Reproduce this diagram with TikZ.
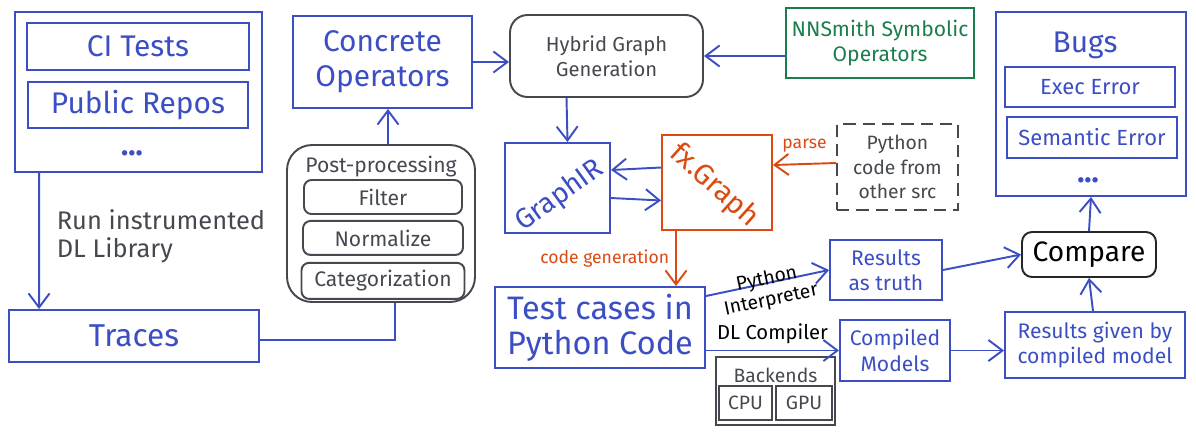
\documentclass[tikz,border=0pt]{standalone}
\usepackage{fontspec}
\setmainfont{Fira Sans}
\usetikzlibrary{arrows.meta,positioning}

\definecolor{skblue}{HTML}{3B4EC4}
\definecolor{skgray}{HTML}{45494F}
\definecolor{skgreen}{HTML}{1C7D4C}
\definecolor{skorange}{HTML}{DB4A10}

\begin{document}
\begin{tikzpicture}[x=0.02cm,y=-0.02cm,->,>={Straight Barb[length=8pt,width=12pt]},
  line width=1.1pt,
  blue box/.style={rectangle,draw=skblue,text=skblue,align=center,inner sep=0pt},
  gray box/.style={rectangle,draw=skgray,text=skgray,align=center,inner sep=0pt},
  big text/.style={font=\fontsize{17}{20}\selectfont},
  mid text/.style={font=\fontsize{12}{14.5}\selectfont},
  small text/.style={font=\fontsize{11}{13}\selectfont}]

  \useasboundingbox (0,0) rectangle (1196,434);

  % sources and traces
  \node[blue box,minimum width=4.94cm,minimum height=3.2cm] (src) at (138.5,92) {};
  \node[blue box,big text,minimum width=4.44cm,minimum height=0.94cm] (ci) at (138,46.5) {CI Tests};
  \node[blue box,big text,minimum width=4.4cm,minimum height=0.92cm] (repos) [below=0.2cm of ci] {Public Repos};
  \node[text=skblue,big text] (srcdots) at (132,153) {\textbf{...}};
  \node[text=skgray,font=\fontsize{14.5}{16}\selectfont,align=left,anchor=west] (run) at (50,236) {Run instrumented\\DL Library};
  \node[blue box,font=\fontsize{18}{20}\selectfont,minimum width=5cm,minimum height=1.04cm] (traces) at (134,336) {Traces};

  % post-processing
  \node[gray box,rounded corners=0.5cm,minimum width=3.76cm,minimum height=3.14cm] (post) at (381,223.5) {};
  \node[text=skgray,mid text] (posttitle) [below=0.1cm of post.north] {Post-processing};
  \node[gray box,mid text,rounded corners=0.15cm,minimum width=3.16cm,minimum height=0.68cm] (filter) at (383,197) {Filter};
  \node[gray box,mid text,rounded corners=0.15cm,minimum width=3.2cm,minimum height=0.68cm] (norm) [below=0.1cm of filter] {Normalize};
  \node[gray box,mid text,rounded corners=0.15cm,minimum width=3.26cm,minimum height=0.72cm] (categ) [below=0.12cm of norm] {Categorization};

  % graph generation
  \node[blue box,big text,minimum width=3.58cm,minimum height=1.84cm] (conc) at (382.5,62) {Concrete\\Operators};
  \node[gray box,rounded corners=0.35cm,font=\fontsize{11.5}{14}\selectfont,minimum width=3.86cm,minimum height=1.64cm] (hybrid) at (606.5,56) {Hybrid Graph\\Generation};
  \node[rectangle,draw=skgreen,text=skgreen,align=center,mid text,minimum width=3.6cm,minimum height=1.4cm] (nns) at (880,43) {NNSmith Symbolic\\Operators};
  \node[blue box,minimum width=2.1cm,minimum height=1.8cm] (gir) at (557.5,188) {};
  \node[text=skblue,font=\fontsize{16}{18}\selectfont,rotate=36] (girtext) at (560,196) {GraphIR};
  \node[rectangle,draw=skorange,minimum width=2.2cm,minimum height=1.9cm] (fxg) at (717,182.5) {};
  \node[text=skorange,font=\fontsize{16.5}{18}\selectfont,rotate=-42] (fxgtext) at (714,186) {fx.Graph};
  \node[rectangle,draw=skgray,dash pattern=on 7pt off 4pt,text=skgray,align=center,font=\fontsize{11}{14}\selectfont,minimum width=2.42cm,minimum height=1.72cm] (pysrc) at (897.5,167) {Python\\code from\\other src};

  % testing
  \node[blue box,font=\fontsize{18.5}{20}\selectfont,minimum width=4.2cm,minimum height=1.62cm] (test) at (600,327.5) {Test cases in\\Python Code};
  \node[blue box,mid text,minimum width=2.24cm,minimum height=1.2cm] (truth) at (886,270) {Results\\as truth};
  \node[blue box,mid text,minimum width=2.2cm,minimum height=1.22cm] (compiled) at (895,350.5) {Compiled\\Models};
  \node[gray box,minimum width=2.38cm,minimum height=1.36cm] (back) at (775.5,391) {};
  \node[text=skgray,small text] (backtitle) [below=0.1cm of back.north] {Backends};
  \node[gray box,small text,minimum width=1.06cm,minimum height=0.68cm] (cpu) at (745.5,403) {CPU};
  \node[gray box,small text,minimum width=1.12cm,minimum height=0.68cm] (gpu) at (804,403) {GPU};
  \node[blue box,mid text,minimum width=3.6cm,minimum height=1.32cm] (given) at (1095,345) {Results given by\\compiled model};
  \node[rectangle,draw=black!85,rounded corners=0.2cm,font=\fontsize{16}{20}\selectfont,minimum width=2.68cm,minimum height=0.9cm] (cmp) at (1089,254.5) {Compare};

  % bugs
  \node[blue box,minimum width=3.8cm,minimum height=3.68cm] (bugs) at (1091,104) {};
  \node[text=skblue,big text] (bugstitle) at (1085,45) {Bugs};
  \node[blue box,font=\fontsize{12.5}{14}\selectfont,minimum width=3.4cm,minimum height=0.8cm] (exec) at (1090,87) {Exec Error};
  \node[blue box,font=\fontsize{12.5}{14}\selectfont,minimum width=3.4cm,minimum height=0.82cm] (sem) at (1092,137.5) {Semantic Error};
  \node[text=skblue,big text] (bugdots) at (1088,180) {\textbf{...}};

  \draw[-,skblue] ([yshift=-0.08cm]traces.east) -| ([xshift=0.28cm]post.south);

  \path
    ([xshift=0.5cm]src.south west) edge[skblue] ([xshift=0.62cm]traces.north west)
    ([xshift=0.14cm]post.north) edge[skblue] ([xshift=0.11cm]conc.south)
    (conc.east) edge[skblue] (conc.east -| hybrid.west)
    (nns.west |- hybrid.east) edge[skblue] (hybrid.east)
    ([xshift=-0.8cm]hybrid.south) edge[skblue] ([xshift=0.2cm]gir.north)
    ([yshift=0.3cm]fxg.west) edge[skblue] ([yshift=0.36cm]gir.east)
    ([yshift=-0.2cm]gir.east) edge[skblue] ([yshift=-0.36cm]fxg.west)
    ([yshift=0.08cm]pysrc.west) edge[skorange] node[above=3pt] {parse} ([yshift=0.35cm]fxg.east)
    ([xshift=-0.82cm]fxg.south) edge[skorange] node[left] {code generation} ([xshift=1.52cm]test.north)
    ([yshift=0.63cm]test.east) edge[skblue] node[sloped,yshift=-4pt,text=black,align=center,font=\fontsize{11}{12}\selectfont] {Python\\Interpreter} (truth.west)
    (test.east |- compiled.west) edge[skblue] node[above,text=black,font=\fontsize{11.5}{13}\selectfont] {DL Compiler} (compiled.west)
    (compiled.east) edge[skblue] (compiled.east -| given.west)
    (truth.east) edge[skblue] (cmp.west)
    ([xshift=-0.04cm]given.north) edge[skblue] (cmp.south)
    (cmp.north) edge[skblue] (bugs.south);

\end{tikzpicture}
\end{document}
